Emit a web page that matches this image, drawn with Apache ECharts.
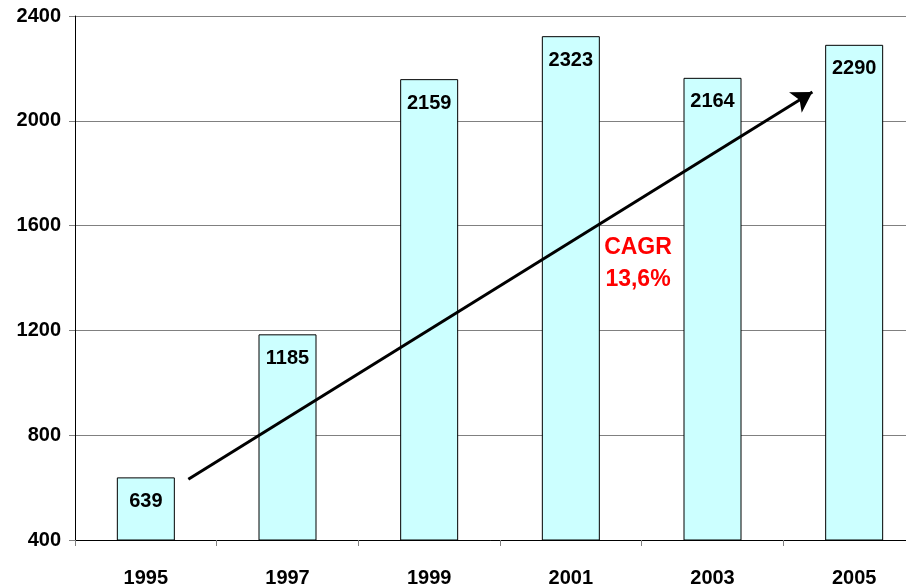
<!DOCTYPE html>
<html>
<head>
<meta charset="utf-8">
<title>CAGR</title>
<script src="https://cdn.jsdelivr.net/npm/echarts@6/dist/echarts.min.js"></script>
</head>
<body style="margin:0;background:#fff;">
<div id="main" style="width:906px;height:585px;"></div>
<script>
    // data
    var years = ['1995', '1997', '1999', '2001', '2003', '2005'];
    var values = [639, 1185, 2159, 2323, 2164, 2290];
    // trend arrow, x in category index units, y in axis units
    var arrowFrom = [0.3, 632];
    var arrowTo = [4.705, 2110];
    var cagrText = 'CAGR\n13,6%';

    var font = '"Liberation Sans", Arial, sans-serif';

    var myChart = echarts.init(document.getElementById('main'));
    myChart.setOption({
        animation: false,
        grid: {
            left: 75,
            top: 16,
            height: 524,
            width: 850,
            containLabel: false,
            outerBoundsMode: 'none'
        },
        xAxis: [{
            type: 'category',
            data: years,
            axisLine: { lineStyle: { color: '#000', width: 1 } },
            axisTick: { show: true, length: 6, lineStyle: { color: '#808080' } },
            axisLabel: {
                color: '#000',
                fontWeight: 'bold',
                fontSize: 20,
                fontFamily: font,
                margin: 28
            },
            splitLine: { show: false }
        }, {
            type: 'value',
            min: -0.5,
            max: 5.5,
            show: false
        }],
        yAxis: {
            type: 'value',
            min: 400,
            max: 2400,
            interval: 400,
            axisLine: { show: true, onZero: false, lineStyle: { color: '#000', width: 1 } },
            axisTick: { show: true, length: 6, lineStyle: { color: '#808080' } },
            axisLabel: {
                color: '#000',
                fontWeight: 'bold',
                fontSize: 20,
                fontFamily: font,
                margin: 14,
                formatter: function (v) { return String(v); }
            },
            splitLine: { lineStyle: { color: '#808080', width: 1 } }
        },
        series: [{
            type: 'bar',
            data: values,
            barWidth: 58,
            itemStyle: {
                color: '#ccffff',
                borderColor: '#000',
                borderWidth: 1
            },
            label: {
                show: true,
                position: 'insideTop',
                distance: 14,
                color: '#000',
                fontWeight: 'bold',
                fontSize: 20,
                fontFamily: font
            }
        }, {
            type: 'line',
            xAxisIndex: 1,
            data: [],
            markLine: {
                silent: true,
                symbol: ['none', 'arrow'],
                symbolSize: [18, 20],
                lineStyle: { color: '#000', width: 3, type: 'solid' },
                label: { show: false },
                data: [[{ coord: arrowFrom }, { coord: arrowTo }]]
            }
        }],
        graphic: [{
            type: 'text',
            z: 100,
            x: 638,
            y: 232,
            style: {
                text: cagrText,
                fill: '#ff0000',
                font: 'bold 23px ' + font,
                align: 'center',
                verticalAlign: 'top',
                lineHeight: 32
            }
        }]
    });
</script>
</body>
</html>
